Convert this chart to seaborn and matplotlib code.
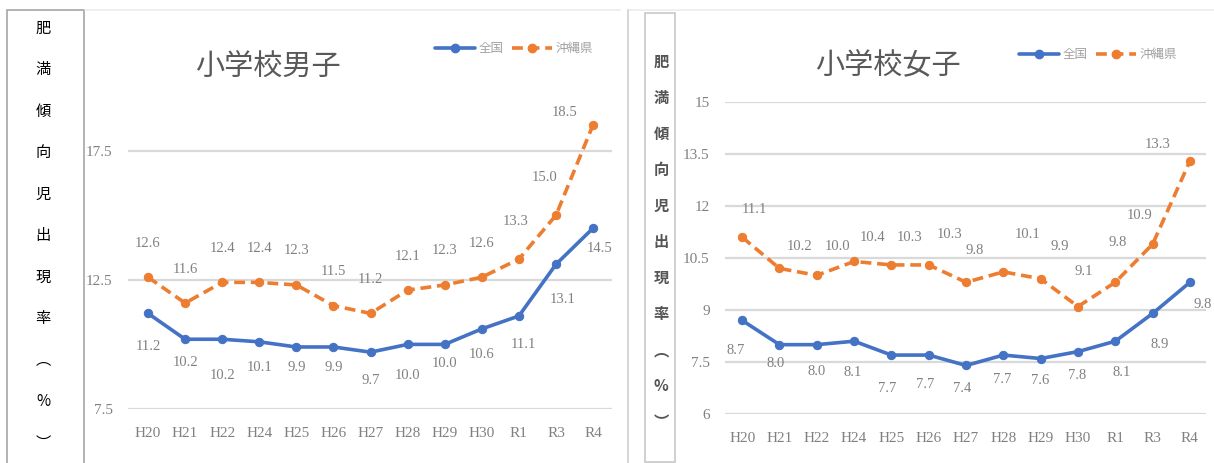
import numpy as np
import pandas as pd
import matplotlib
matplotlib.use("Agg")
import matplotlib.pyplot as plt
from matplotlib.patches import Rectangle
from matplotlib.lines import Line2D
import seaborn as sns

# data
years = ["H20", "H21", "H22", "H24", "H25", "H26", "H27", "H28", "H29", "H30", "R1", "R3", "R4"]
boys_national = [11.2, 10.2, 10.2, 10.1, 9.9, 9.9, 9.7, 10.0, 10.0, 10.6, 11.1, 13.1, 14.5]
boys_okinawa = [12.6, 11.6, 12.4, 12.4, 12.3, 11.5, 11.2, 12.1, 12.3, 12.6, 13.3, 15.0, 18.5]
girls_national = [8.7, 8.0, 8.0, 8.1, 7.7, 7.7, 7.4, 7.7, 7.6, 7.8, 8.1, 8.9, 9.8]
girls_okinawa = [11.1, 10.2, 10.0, 10.4, 10.3, 10.3, 9.8, 10.1, 9.9, 9.1, 9.8, 10.9, 13.3]
series_names = ["全国", "沖縄県"]
ylabel_chars = ["肥", "満", "傾", "向", "児", "出", "現", "率", "︵", "%", "︶"]

BLUE = "#4472C4"
ORANGE = "#ED7D31"
GRAY_TXT = "#808080"
GRID = "#d9d9d9"

sns.set_theme(style="white")
plt.rcParams["font.family"] = ["Liberation Serif", "Noto Sans CJK JP", "DejaVu Sans"]

W, H = 1214, 463
fig = plt.figure(figsize=(W / 100, H / 100), dpi=100)


def fx(px):
    return px / W


def fy(py):
    return 1 - py / H


def make_axes(x0, x1, y0, y1):
    return fig.add_axes([fx(x0), fy(y1), fx(x1) - fx(x0), fy(y0) - fy(y1)])


# label offsets in pixels (dx, dy) ; dy positive = up
boys_ok_off = [(0, 34)] * 10 + [(-3, 38), (-11, 38), (-28, 12)]
boys_nat_off = [(0, -33), (0, -23), (0, -36), (0, -26), (0, -21), (0, -21), (0, -28),
                (0, -31), (0, -19), (0, -26), (4, -29), (7, -35), (7, -20)]
girls_ok_off = [(12, 28), (20, 22), (21, 29), (18, 24), (18, 27), (21, 30), (9, 32),
                (24, 37), (19, 32), (6, 35), (2, 40), (-13, 29), (-32, 16)]
girls_nat_off = [(-7, -30), (-4, -19), (0, -27), (-1, -31), (-4, -33), (-4, -29), (-4, -23),
                 (-1, -24), (-1, -22), (-1, -24), (6, -31), (7, -31), (13, -22)]


def draw_panel(ax, nat, ok, nat_off, ok_off, ylim, yticks, xlim, title, title_xy, leg_xy):
    x = np.arange(len(years))
    df = pd.DataFrame({"x": x, "nat": nat, "ok": ok})
    for t in yticks:
        ax.axhline(t, color=GRID, lw=1.6, zorder=0)
    sns.lineplot(data=df, x="x", y="nat", ax=ax, color=BLUE, lw=2.6, marker="o",
                 markersize=6, markeredgecolor=BLUE, label=series_names[0])
    sns.lineplot(data=df, x="x", y="ok", ax=ax, color=ORANGE, lw=2.6, marker="o",
                 markersize=6, markeredgecolor=ORANGE, linestyle=(0, (3, 1.6)),
                 label=series_names[1])
    for i in range(len(x)):
        ax.annotate(f"{ok[i]:.1f}", (x[i], ok[i]), xytext=ok_off[i], textcoords="offset pixels",
                    ha="center", va="center", fontsize=10.5, color=GRAY_TXT)
        ax.annotate(f"{nat[i]:.1f}", (x[i], nat[i]), xytext=nat_off[i], textcoords="offset pixels",
                    ha="center", va="center", fontsize=10.5, color=GRAY_TXT)
    ax.set_xlim(*xlim)
    ax.set_ylim(*ylim)
    ax.set_xticks(x)
    ax.set_xticklabels(years, fontsize=11, color=GRAY_TXT)
    ax.set_yticks(yticks)
    ax.set_yticklabels([f"{t:g}" for t in yticks], fontsize=11, color=GRAY_TXT)
    ax.tick_params(axis="x", length=0, pad=13)
    ax.tick_params(axis="y", length=0, pad=11)
    ax.set_xlabel("")
    ax.set_ylabel("")
    for s in ax.spines.values():
        s.set_visible(False)
    ax.patch.set_alpha(0)
    handles = [Line2D([], [], color=BLUE, lw=2.6, marker="o", markersize=6),
               Line2D([], [], color=ORANGE, lw=2.6, marker="o", markersize=6, linestyle=(0, (3, 1.6)))]
    ax.legend(handles, series_names, loc="center", bbox_to_anchor=(fx(leg_xy[0]), fy(leg_xy[1])),
              bbox_transform=fig.transFigure, ncol=2, frameon=False, fontsize=9,
              handlelength=3.2, columnspacing=0.6, handletextpad=0.3, labelcolor="#a0a0a0")
    fig.text(fx(title_xy[0]), fy(title_xy[1]), title, ha="center", va="center",
             fontsize=21, color="#595959", family="Noto Sans CJK JP")


# left panel
ax1 = make_axes(128, 612, 86, 409)
draw_panel(ax1, boys_national, boys_okinawa, boys_nat_off, boys_ok_off,
           (7.5, 20), [7.5, 12.5, 17.5], (-0.54, 12.51), "小学校男子", (268, 68), (514, 49))

# right panel
ax2 = make_axes(725, 1206, 102, 414)
draw_panel(ax2, girls_national, girls_okinawa, girls_nat_off, girls_ok_off,
           (6, 15), [6, 7.5, 9, 10.5, 12, 13.5, 15], (-0.46, 12.43), "小学校女子", (888, 66), (1098, 55))

# frames and vertical labels
fig.add_artist(Rectangle((fx(7), fy(470)), fx(84) - fx(7), fy(10) - fy(470),
                         transform=fig.transFigure, fill=False, ec="#a6a6a6", lw=1.2))
fig.add_artist(Line2D([fx(85), fx(620)], [fy(10), fy(10)], transform=fig.transFigure,
                      color="#ececec", lw=1.2))
fig.add_artist(Line2D([fx(628), fx(1214)], [fy(10), fy(10)], transform=fig.transFigure,
                      color="#ececec", lw=1.2))
fig.add_artist(Line2D([fx(628), fx(628)], [fy(10), fy(463)], transform=fig.transFigure,
                      color="#d0d0d0", lw=1.2))
fig.add_artist(Rectangle((fx(645), fy(462)), fx(675) - fx(645), fy(13) - fy(462),
                         transform=fig.transFigure, fill=False, ec="#c8c8c8", lw=1.2))

left_y = np.linspace(28, 443, len(ylabel_chars))
for ch, yy in zip(ylabel_chars, left_y):
    fig.text(fx(43), fy(yy), ch, ha="center", va="center", fontsize=11, color="black",
             family=["Noto Sans CJK JP", "DejaVu Sans"])
right_y = np.linspace(62, 422, len(ylabel_chars))
for ch, yy in zip(ylabel_chars, right_y):
    fig.text(fx(661), fy(yy), ch, ha="center", va="center", fontsize=11, color="#555555",
             fontweight="bold", family=["Noto Sans CJK JP", "DejaVu Sans"])

fig.savefig("out.png", dpi=100, facecolor="white")
